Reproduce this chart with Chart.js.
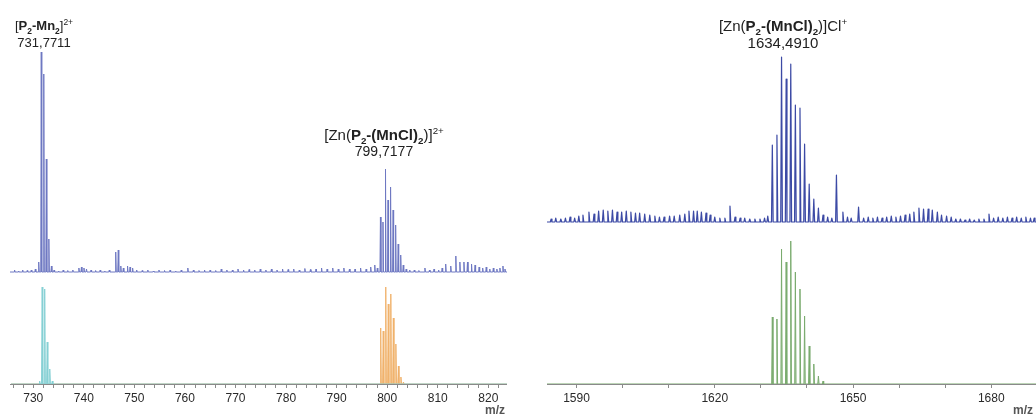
<!DOCTYPE html>
<html lang="en">
<head>
    <meta charset="UTF-8">
    <title>ESI-MS spectra</title>
    <script src="https://cdn.jsdelivr.net/npm/chart.js"></script>
    <style>
        body {
            margin: 0;
            width: 1036px;
            height: 414px;
            overflow: hidden;
            background: #fff;
            position: relative;
            font-family: Arial, "Liberation Sans", sans-serif;
        }
        .panel { position: absolute; top: 0; height: 414px; overflow: hidden; }
        .panel canvas { position: absolute; left: 0; }
        .lbl {
            position: absolute;
            color: #222;
            text-align: center;
            white-space: nowrap;
            transform: translateX(-50%);
        }
        .lbl div { height: 17px; line-height: 17px; }
        .lbl sub, .lbl sup { font-size: 0.65em; line-height: 0; }
        .mz { position: absolute; top: 403px; font-size: 12px; font-weight: bold; color: #555; }
    </style>
</head>
<body>
    <div class="panel" style="left:10px; width:497px;">
        <canvas id="leftTop" width="497" height="250" style="top:40px"></canvas>
        <canvas id="leftBottom" width="497" height="144" style="top:270px"></canvas>
        <div class="mz" style="left:475px">m/z</div>
    </div>
    <div class="panel" style="left:547px; width:489px;">
        <canvas id="rightTop" width="489" height="200" style="top:40px"></canvas>
        <canvas id="rightBottom" width="489" height="184" style="top:230px"></canvas>
        <div class="mz" style="left:466px">m/z</div>
    </div>

    <div class="lbl" style="left:44px; top:17px">
        <div style="font-size:13px">[<b>P<sub>2</sub>-Mn<sub>2</sub></b>]<sup>2+</sup></div>
        <div style="font-size:13px">731,7711</div>
    </div>
    <div class="lbl" style="left:384px; top:126px">
        <div style="font-size:15px">[Zn(<b>P<sub>2</sub>-(MnCl)<sub>2</sub></b>)]<sup>2+</sup></div>
        <div style="font-size:14px">799,7177</div>
    </div>
    <div class="lbl" style="left:783px; top:17px">
        <div style="font-size:15px">[Zn(<b>P<sub>2</sub>-(MnCl)<sub>2</sub></b>)]Cl<sup>+</sup></div>
        <div style="font-size:15px">1634,4910</div>
    </div>

    <script>
        // m/z windows of the two panels
        const leftRange = [725.6, 823.7];
        const rightRange = [1583.6, 1689.7];

        // measured spectrum, 2+ region: [m/z, intensity]
        const leftMeasured = [
            [731.27, 10], [731.77, 220], [732.27, 198], [732.77, 113], [733.27, 33], [733.77, 6],
            [746.47, 20], [746.97, 22], [747.47, 6], [747.97, 4],
            [798.72, 55], [799.22, 50], [799.72, 103], [800.22, 72], [800.72, 85], [801.22, 62],
            [801.72, 47], [802.22, 28], [802.72, 17], [803.22, 7],
            [811.6, 8], [812.6, 6], [813.6, 16], [814.4, 10], [815.2, 10], [815.9, 10],
            [816.7, 8], [817.4, 7], [822.9, 6]
        ];
        const leftNoise = [
            [726.5, 2], [727.3, 1], [728.1, 2], [729, 1.5], [729.8, 2], [730.6, 3], [734.3, 2], [735.2, 1],
            [736.1, 2], [737, 1.5], [738, 2], [739.2, 4], [739.7, 5], [740.2, 4], [740.7, 3], [741.6, 2],
            [742.5, 1.5], [743.4, 2], [744.3, 1], [745.2, 2], [748.8, 6], [749.3, 5], [749.8, 4], [750.6, 2],
            [751.7, 1.5], [752.8, 2], [753.9, 1], [755, 2], [756.1, 1.5], [757.2, 2], [758.3, 1], [759.4, 2],
            [760.7, 4], [761.8, 2], [762.9, 1.5], [764, 2], [765.1, 2], [766.2, 1.5], [767.3, 3], [768.4, 2],
            [769.5, 2], [770.6, 3], [771.7, 2], [772.8, 2.5], [773.9, 2], [775, 3], [776.1, 2], [777.2, 3],
            [778.3, 2], [779.4, 3], [780.5, 2.5], [781.6, 3], [782.7, 2], [783.8, 3.5], [784.9, 2.5], [786, 3],
            [787.1, 4], [788.2, 3], [789.3, 4], [790.4, 3], [791.5, 4], [792.6, 3], [793.7, 3], [794.8, 4],
            [795.9, 3], [796.8, 5], [797.6, 7], [798.1, 4], [803.8, 3], [804.5, 2], [805.4, 2], [806.3, 1.5],
            [807.5, 4], [808.4, 2], [809.3, 3], [810.2, 2], [810.9, 4], [818.2, 5], [818.9, 4], [819.6, 5],
            [820.3, 3], [821, 4], [821.7, 3], [822.3, 4], [823.3, 3]
        ];
        // simulated isotope patterns
        const simP2Mn2 = [[731.27, 3], [731.77, 97], [732.27, 95], [732.77, 42], [733.27, 15], [733.77, 3]];
        const simZnMnCl2 = [
            [798.72, 56], [799.22, 53], [799.72, 97], [800.22, 80], [800.72, 90], [801.22, 66],
            [801.72, 40], [802.22, 18], [802.72, 7], [803.22, 2]
        ];

        // measured spectrum, 1+ region
        const rightMeasured = [
            [1632.49, 77], [1633.49, 87], [1634.49, 165], [1635.49, 143], [1636.49, 158], [1637.49, 117],
            [1638.49, 114], [1639.49, 78], [1640.49, 38], [1641.49, 23], [1642.49, 14], [1643.49, 7],
            [1646.4, 47], [1647.8, 10], [1651.2, 15]
        ];
        const rightNoise = [
            [1584.5, 3], [1585.5, 4], [1586.6, 3], [1587.6, 4], [1588.6, 5], [1589.6, 4], [1590.5, 6],
            [1591.4, 7], [1592.7, 10], [1593.8, 8], [1594.8, 11], [1595.8, 12], [1596.8, 11], [1597.8, 12],
            [1598.8, 10], [1599.8, 10], [1600.8, 11], [1601.8, 10], [1602.8, 9], [1603.7, 9], [1604.8, 8],
            [1605.9, 7], [1607, 6], [1608, 5], [1609, 5], [1610.2, 6], [1611.2, 6], [1612.4, 7], [1613.5, 8],
            [1614.4, 11], [1615.4, 11], [1616.2, 11], [1617.1, 10], [1618.1, 9], [1619, 7], [1620, 5],
            [1621.1, 4], [1622.2, 4], [1623.3, 16], [1624.4, 5], [1625.5, 4], [1626.5, 4], [1627.6, 3],
            [1628.7, 3], [1629.8, 3], [1630.8, 4], [1631.5, 6],
            [1644.5, 5], [1645.4, 4], [1648.8, 5], [1649.6, 4], [1652.3, 4], [1653.3, 5], [1654.3, 4],
            [1655.3, 5], [1656.3, 4], [1657.3, 5], [1658.3, 6], [1659.3, 5], [1660.3, 6], [1661.3, 7],
            [1662.3, 8], [1663.2, 10], [1664.3, 14], [1665.3, 13], [1666.3, 13], [1667.2, 12], [1668.3, 10],
            [1669.2, 7], [1670.3, 6], [1671.3, 5], [1672.3, 3], [1673.3, 3], [1674.3, 2], [1675.3, 3],
            [1676.3, 2], [1677.3, 3], [1678.4, 3], [1679.5, 8], [1680.5, 4], [1681.5, 5], [1682.5, 4],
            [1683.5, 5], [1684.5, 4], [1685.5, 5], [1686.5, 4], [1687.5, 5], [1688.5, 4], [1689.3, 4]
        ];
        const simZnClPattern = [
            [1632.49, 67], [1633.49, 65], [1634.49, 135], [1635.49, 122], [1636.49, 143], [1637.49, 112],
            [1638.49, 95], [1639.49, 68], [1640.49, 38], [1641.49, 20], [1642.49, 8], [1643.49, 3]
        ];

        // turn [m/z, intensity] sticks into a line trace
        function stickTrace(peaks, halfWidth, range) {
            const pts = [{ x: range[0], y: 0 }];
            peaks.slice().sort((a, b) => a[0] - b[0]).forEach(([m, h]) => {
                pts.push({ x: m - halfWidth, y: 0 }, { x: m, y: h }, { x: m + halfWidth, y: 0 });
            });
            pts.push({ x: range[1], y: 0 });
            return pts;
        }

        function xAxis(range, step, labelEvery, show) {
            const axis = {
                type: 'linear',
                min: range[0],
                max: range[1],
                display: show,
                border: { display: true, color: '#8a8a8a' },
                grid: { drawOnChartArea: false, drawTicks: true, tickLength: 4, color: '#8a8a8a' },
                ticks: {
                    stepSize: step,
                    includeBounds: false,
                    autoSkip: false,
                    maxRotation: 0,
                    padding: 3,
                    color: '#2a2a2a',
                    font: { family: 'Arial', size: 12 },
                    callback: v => (Math.round(v) % labelEvery === 0 ? Math.round(v) : '')
                }
            };
            if (show) axis.afterFit = s => { s.height = 30; };
            return axis;
        }

        function makeChart(id, datasets, range, yRange, step, labelEvery, showAxis) {
            return new Chart(document.getElementById(id), {
                type: 'line',
                data: { datasets: datasets },
                options: {
                    responsive: false,
                    animation: false,
                    layout: { padding: 0 },
                    elements: { point: { radius: 0 }, line: { tension: 0, borderJoinStyle: 'round' } },
                    plugins: { legend: { display: false }, tooltip: { enabled: false } },
                    scales: {
                        x: xAxis(range, step, labelEvery, showAxis),
                        y: { display: false, min: yRange[0], max: yRange[1] }
                    }
                }
            });
        }

        makeChart('leftTop', [{
            data: stickTrace(leftMeasured.concat(leftNoise), 0.1, leftRange),
            borderColor: '#6e78c2',
            borderWidth: 1,
            backgroundColor: 'rgba(150,158,215,0.55)',
            fill: 'origin'
        }], leftRange, [-18, 232], 2, 10, false);

        makeChart('leftBottom', [{
            data: stickTrace(simP2Mn2, 0.12, leftRange),
            borderColor: '#86d0d4',
            borderWidth: 1,
            backgroundColor: 'rgba(134,208,212,0.8)',
            fill: 'origin'
        }, {
            data: stickTrace(simZnMnCl2, 0.12, leftRange),
            borderColor: '#f0b26c',
            borderWidth: 1,
            backgroundColor: 'rgba(240,178,108,0.8)',
            fill: 'origin'
        }], leftRange, [0, 114], 2, 10, true);

        makeChart('rightTop', [{
            data: stickTrace(rightMeasured.concat(rightNoise), 0.18, rightRange),
            borderColor: '#3c4aa5',
            borderWidth: 1.2,
            backgroundColor: 'rgba(120,130,200,0.35)',
            fill: 'origin'
        }], rightRange, [-18, 182], 10, 30, false);

        makeChart('rightBottom', [{
            data: stickTrace(simZnClPattern, 0.14, rightRange),
            borderColor: '#7aab6e',
            borderWidth: 1,
            backgroundColor: 'rgba(122,171,110,0.5)',
            fill: 'origin'
        }], rightRange, [0, 154], 10, 30, true);
    </script>
</body>
</html>
